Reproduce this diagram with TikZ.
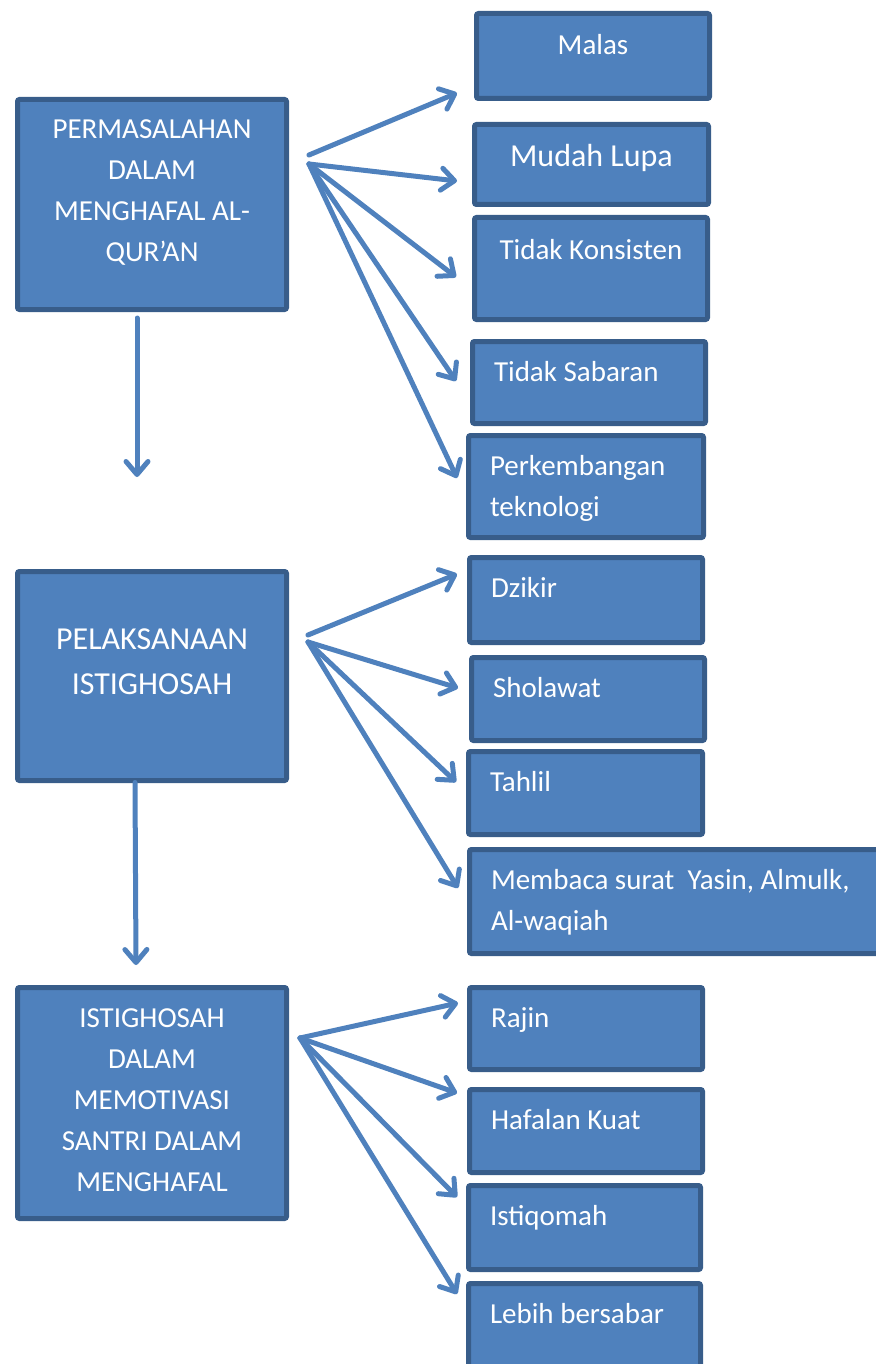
\documentclass[tikz,border=0pt]{standalone}
\usepackage{fontspec}
\setmainfont{Carlito}
\usetikzlibrary{arrows.meta}
\definecolor{boxfill}{HTML}{4F81BD}
\definecolor{boxline}{HTML}{385D8A}
\definecolor{arrowblue}{HTML}{4F81BD}
\begin{document}
\begin{tikzpicture}[x=1pt,y=-1pt,inner sep=0pt,outer sep=0pt,
box/.style={draw=boxline,fill=boxfill,line width=5pt,rounded corners=2pt,anchor=north west,
  inner xsep=21.5pt,inner ysep=0pt,text=white,align=flush left,text height=39.5pt,
  font=\fontsize{29pt}{41pt}\selectfont},
mainbox/.style={box,align=flush center,inner xsep=10pt,text width=249pt},
arr/.style={draw=arrowblue,line width=5pt,line cap=round,line join=round,
  -{Straight Barb[round,length=13pt,width=22pt]}}]
\useasboundingbox (0,0) rectangle (875,1364);

\draw (17.5,99.5) node[mainbox,text depth=170.5pt] (masalah) {PERMASALAHAN\\DALAM\\MENGHAFAL AL-\\QUR’AN};
\draw (17.5,571.5) node[mainbox,text height=77.5pt,text depth=131.5pt,
  font=\fontsize{32pt}{45pt}\selectfont] (pelaksanaan) {PELAKSANAAN\\ISTIGHOSAH};
\draw (17.5,987.5) node[mainbox,text depth=191.5pt] (motivasi) {ISTIGHOSAH\\DALAM\\MEMOTIVASI\\SANTRI DALAM\\MENGHAFAL};

\draw (476.5,13.5) node[box,align=flush center,text width=190pt,text height=41pt,text depth=44pt] (malas) {Malas};
\draw (474.5,124.5) node[box,align=flush center,text width=191pt,text height=42.5pt,text depth=37.5pt,
  font=\fontsize{32pt}{41pt}\selectfont] (mudah) {Mudah Lupa};
\draw (474.5,217.5) node[box,align=flush center,text width=190pt,text height=42pt,text depth=60pt] (konsisten) {Tidak Konsisten};
\draw (472.5,341.5) node[box,text width=190pt,text depth=42.5pt] (sabaran) {Tidak Sabaran};
\draw (468.5,435.5) node[box,text width=192pt,text depth=62.5pt] (teknologi) {Perkembangan\\teknologi};

\draw (469.5,557.5) node[box,text width=190pt,text depth=45.5pt] (dzikir) {Dzikir};
\draw (471.5,657.5) node[box,text width=190pt,text depth=43.5pt] (sholawat) {Sholawat};
\draw (468.5,751.5) node[box,text width=191pt,text depth=43.5pt] (tahlil) {Tahlil};
\draw (469.5,849.5) node[box,text width=387pt,text depth=64.5pt] (yasin) {Membaca surat\ \ Yasin, Almulk,\\Al-waqiah};

\draw (469.5,987.5) node[box,text width=190pt,text depth=42.5pt] (rajin) {Rajin};
\draw (469.5,1089.5) node[box,text width=190pt,text depth=43.5pt] (hafalan) {Hafalan Kuat};
\draw (468.5,1185.5) node[box,text width=189pt,text depth=44.5pt] (istiqomah) {Istiqomah};
\draw (468.5,1283.5) node[box,text width=189pt,text depth=60.5pt] (bersabar) {Lebih bersabar};

\coordinate (f1) at (309,164);
\coordinate (f2) at (308,642);
\coordinate (f3) at (300,1038);

\draw[arr] ([yshift=9pt]f1) -- ([xshift=-19.5pt,yshift=-37pt]malas.west);
\draw[arr] (f1) -- ([xshift=-17.5pt,yshift=-16.5pt]mudah.west);
\draw[arr] (f1) -- ([xshift=-18.5pt,yshift=-8.5pt]konsisten.west);
\draw[arr] (f1) -- ([xshift=-16.5pt,yshift=1.5pt]sabaran.west);
\draw[arr] (f1) -- ([xshift=-11.5pt,yshift=8.5pt]teknologi.west);

\draw[arr] ([yshift=7pt]f2) -- ([xshift=-12.5pt,yshift=26pt]dzikir.west);
\draw[arr] (f2) -- ([xshift=-13.5pt,yshift=11pt]sholawat.west);
\draw[arr] (f2) -- ([xshift=-12.5pt,yshift=11pt]tahlil.west);
\draw[arr] (f2) -- ([xshift=-11.5pt,yshift=13.5pt]yasin.west);

\draw[arr] (f3) -- ([xshift=-11.5pt,yshift=25.5pt]rajin.west);
\draw[arr] (f3) -- ([xshift=-12.5pt,yshift=38pt]hafalan.west);
\draw[arr] (f3) -- ([xshift=-11.5pt,yshift=30.5pt]istiqomah.west);
\draw[arr] (f3) -- ([xshift=-11.5pt,yshift=39.5pt]bersabar.west);

\draw[arr] ([xshift=-15pt,yshift=-8.5pt]masalah.south) -- ([xshift=-15pt,yshift=94.5pt]pelaksanaan.north);
\draw[arr] ([xshift=-17pt,yshift=-2pt]pelaksanaan.south) -- ([xshift=-16pt,yshift=22.5pt]motivasi.north);
\end{tikzpicture}
\end{document}
